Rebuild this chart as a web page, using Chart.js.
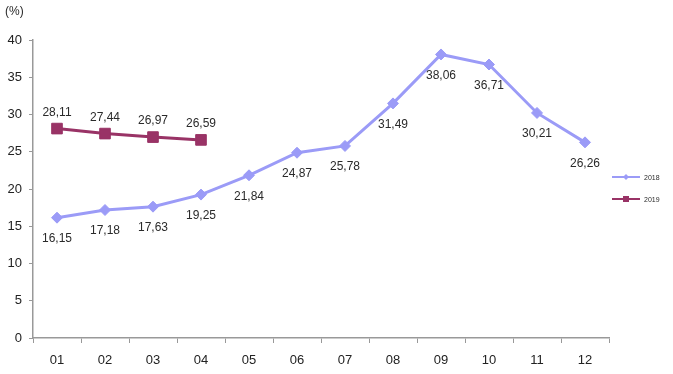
<!DOCTYPE html>
<html>
<head>
<meta charset="utf-8">
<script src="https://cdn.jsdelivr.net/npm/chart.js@4"></script>
<style>
  html, body { margin: 0; padding: 0; background: #fff; }
  #wrap { width: 673px; height: 374px; }
</style>
</head>
<body>
<div id="wrap"><canvas id="myChart" width="673" height="374"></canvas></div>
<script>
const months = ["01","02","03","04","05","06","07","08","09","10","11","12"];
const values2018 = [16.15, 17.18, 17.63, 19.25, 21.84, 24.87, 25.78, 31.49, 38.06, 36.71, 30.21, 26.26];
const values2019 = [28.11, 27.44, 26.97, 26.59, null, null, null, null, null, null, null, null];
const seriesNames = ["2018", "2019"];
const yTicks = [0, 5, 10, 15, 20, 25, 30, 35, 40];

const color2018 = '#9b9bf7';
const color2019 = '#993366';
const fontName = '"Liberation Sans", Arial, sans-serif';

// etiquetas de valores (coma decimal)
const valueLabels = {
  id: 'valueLabels',
  afterDatasetsDraw(chart) {
    const ctx = chart.ctx;
    ctx.save();
    ctx.font = '12px ' + fontName;
    ctx.fillStyle = '#2a2a2a';
    ctx.textAlign = 'center';
    ctx.textBaseline = 'middle';
    chart.data.datasets.forEach((ds, i) => {
      const meta = chart.getDatasetMeta(i);
      const off = i === 0 ? 21 : -16;
      meta.data.forEach((pt, j) => {
        const v = ds.data[j];
        if (v === null) return;
        ctx.fillText(v.toFixed(2).replace('.', ','), pt.x, pt.y + off);
      });
    });
    ctx.restore();
  }
};

// titulo (%) y leyenda a la derecha
const extras = {
  id: 'extras',
  afterDraw(chart) {
    const ctx = chart.ctx;
    ctx.save();
    ctx.font = '12px ' + fontName;
    ctx.fillStyle = '#2a2a2a';
    ctx.textBaseline = 'middle';
    ctx.fillText('(%)', 5, 12);

    const items = [
      { y: 177, color: color2018, style: 'diamond' },
      { y: 199, color: color2019, style: 'square' }
    ];
    items.forEach((it, i) => {
      ctx.strokeStyle = it.color;
      ctx.lineWidth = 2;
      ctx.beginPath();
      ctx.moveTo(612, it.y);
      ctx.lineTo(640, it.y);
      ctx.stroke();
      ctx.fillStyle = it.color;
      ctx.beginPath();
      if (it.style === 'diamond') {
        ctx.moveTo(626, it.y - 3); ctx.lineTo(629, it.y);
        ctx.lineTo(626, it.y + 3); ctx.lineTo(623, it.y);
      } else {
        ctx.rect(623, it.y - 3, 6, 6);
      }
      ctx.closePath();
      ctx.fill();
      ctx.fillStyle = '#2a2a2a';
      ctx.font = '7px ' + fontName;
      ctx.fillText(seriesNames[i], 644, it.y + 1);
    });
    ctx.restore();
  }
};

const data = {
  labels: months,
  datasets: [{
    label: seriesNames[0],
    data: values2018,
    borderColor: color2018,
    backgroundColor: color2018,
    borderWidth: 3,
    pointStyle: 'rectRot',
    pointRadius: 5.5,
    pointBorderWidth: 1,
    tension: 0
  }, {
    label: seriesNames[1],
    data: values2019,
    borderColor: color2019,
    backgroundColor: color2019,
    borderWidth: 3,
    pointStyle: 'rect',
    pointRadius: 7.5,
    pointBorderWidth: 1,
    tension: 0,
    spanGaps: false
  }]
};

const config = {
  type: 'line',
  data: data,
  options: {
    responsive: false,
    animation: false,
    layout: { padding: { top: 40, right: 64, left: 0, bottom: 0 } },
    plugins: {
      legend: { display: false },
      tooltip: { enabled: false }
    },
    scales: {
      x: {
        offset: true,
        grid: { offset: true, drawOnChartArea: false, tickLength: 5, color: '#999' },
        border: { color: '#999', width: 1.5 },
        ticks: { padding: 10, color: '#222', font: { size: 13, family: fontName } },
        afterFit(s) { s.height = 36; }
      },
      y: {
        min: 0,
        max: 40,
        afterBuildTicks(s) { s.ticks = yTicks.map(v => ({ value: v })); },
        grid: { drawOnChartArea: false, tickLength: 4, color: '#999' },
        border: { color: '#999', width: 1.5 },
        ticks: { padding: 7, color: '#222', font: { size: 13, family: fontName } },
        afterFit(s) { s.width = 33; }
      }
    }
  },
  plugins: [valueLabels, extras]
};

let myChart = new Chart(document.getElementById('myChart'), config);
</script>
</body>
</html>
